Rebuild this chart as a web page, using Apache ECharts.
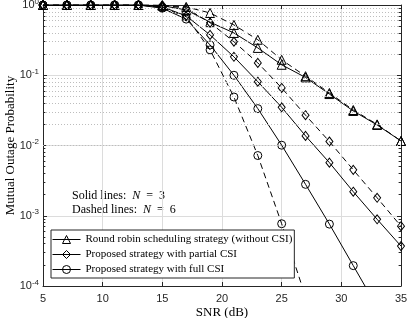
<!DOCTYPE html>
<html>
<head>
<meta charset="utf-8">
<script src="https://cdn.jsdelivr.net/npm/echarts@6/dist/echarts.min.js"></script>
<style>
  html, body { margin: 0; padding: 0; background: #fff; }
  #chart { width: 408px; height: 318px; }
</style>
</head>
<body>
<div id="chart"></div>
<script>
// SNR points (dB)
const snr = [5, 7, 9, 11, 13, 15, 17, 19, 21, 23, 25, 27, 29, 31, 33, 35];

// round robin scheduling (without CSI)
const roundRobinN3 = [1, 1, 1, 1, 1, 0.98, 0.85, 0.57, 0.40, 0.245, 0.141, 0.093, 0.054, 0.031, 0.0196, 0.0116];
const roundRobinN6 = [1, 1, 1, 1, 1, 0.99, 0.94, 0.77, 0.52, 0.32, 0.166, 0.097, 0.056, 0.032, 0.020, 0.0116];

// proposed strategy, partial CSI
const partialN3 = [1, 1, 1, 1, 1, 0.94, 0.70, 0.375, 0.183, 0.081, 0.035, 0.0137, 0.0057, 0.0022, 0.00089, 0.00037];
const partialN6 = [1, 1, 1, 1, 1, 0.99, 0.90, 0.56, 0.30, 0.15, 0.066, 0.027, 0.0114, 0.0045, 0.0018, 0.00071];

// proposed strategy, full CSI
const fullN3 = [1, 1, 1, 1, 1, 0.90, 0.63, 0.27, 0.10, 0.0335, 0.0101, 0.0028, 0.00076, 0.000195, 0.00005, null];
const fullN6 = [1, 1, 1, 1, 1, 0.92, 0.68, 0.23, 0.049, 0.0072, 0.00077, 0.00007, null, null, null, null];

const xTicks = [5, 10, 15, 20, 25, 30, 35];
const yDecades = [1e-4, 1e-3, 1e-2, 1e-1, 1];

const legendNames = [
  'Round robin scheduling strategy (without CSI)',
  'Proposed strategy with partial CSI',
  'Proposed strategy with full CSI'
];

const serif = "'Liberation Serif', 'DejaVu Serif', serif";
const sans = "'Liberation Sans', Arial, sans-serif";
const axisColor = '#262626';

// minor log grid values 2..9 x 10^k
const minorVals = [];
for (let k = 0; k < yDecades.length - 1; k++) {
  for (let m = 2; m <= 9; m++) minorVals.push(+(m * yDecades[k]).toPrecision(3));
}

const pairs = (vals) => snr.map((x, i) => [x, vals[i]]);

function makeSeries(name, vals, symbol, size, dashed) {
  return {
    name: name,
    type: 'line',
    data: pairs(vals),
    symbol: symbol,
    symbolSize: size,
    clip: true,
    connectNulls: false,
    lineStyle: { color: '#000', width: 1, type: dashed ? [6, 4] : 'solid' },
    itemStyle: { color: 'rgba(255,255,255,0)', borderColor: '#000', borderWidth: 1 },
    emphasis: { disabled: true },
    animation: false
  };
}

const chart = echarts.init(document.getElementById('chart'));

const option = {
  animation: false,
  grid: { left: 43, right: 7, top: 5, bottom: 32, outerBoundsMode: 'none' },
  legend: {
    data: legendNames,
    orient: 'vertical',
    left: 51,
    top: 230,
    itemWidth: 28,
    itemHeight: 10,
    itemGap: 2,
    padding: [3, 2, 2, 1],
    backgroundColor: '#fff',
    borderColor: axisColor,
    borderWidth: 1,
    selectedMode: false,
    lineStyle: { width: 1 },
    itemStyle: { borderWidth: 1 },
    textStyle: { fontFamily: serif, fontSize: 11, color: '#000', lineHeight: 13 }
  },
  graphic: [
    {
      type: 'text', left: 72, top: 190,
      style: {
        text: '{a|Solid lines:  }{i|N}{a|  =  3}',
        rich: { a: { fontFamily: serif, fontSize: 12, fill: '#000' }, i: { fontFamily: serif, fontSize: 12, fontStyle: 'italic', fill: '#000' } }
      }
    },
    {
      type: 'text', left: 72, top: 204,
      style: {
        text: '{a|Dashed lines:  }{i|N}{a|  =  6}',
        rich: { a: { fontFamily: serif, fontSize: 12, fill: '#000' }, i: { fontFamily: serif, fontSize: 12, fontStyle: 'italic', fill: '#000' } }
      }
    }
  ],
  xAxis: [
    {
      type: 'value', min: 5, max: 35, interval: 5,
      name: 'SNR (dB)', nameLocation: 'middle', nameGap: 20, nameMoveOverlap: false,
      nameTextStyle: { fontFamily: serif, fontSize: 13, color: '#000' },
      axisLine: { lineStyle: { color: axisColor, width: 1 } },
      axisTick: { inside: true, length: 4, lineStyle: { color: axisColor } },
      axisLabel: { fontFamily: sans, fontSize: 11, color: axisColor, margin: 7,
        formatter: (v) => xTicks.includes(v) ? String(v) : '' },
      splitLine: { show: true, lineStyle: { color: '#dcdcdc', width: 1 } }
    },
    {
      type: 'value', min: 5, max: 35, interval: 5, position: 'top',
      axisLine: { lineStyle: { color: axisColor, width: 1 } },
      axisTick: { inside: true, length: 4, lineStyle: { color: axisColor } },
      axisLabel: { show: false },
      splitLine: { show: false }
    }
  ],
  yAxis: [
    {
      type: 'log', logBase: 10, min: 1e-4, max: 1,
      name: 'Mutual Outage Probability', nameLocation: 'middle', nameGap: 26, nameMoveOverlap: false,
      nameTextStyle: { fontFamily: serif, fontSize: 13, color: '#000' },
      axisLine: { show: true, lineStyle: { color: axisColor, width: 1 } },
      axisTick: { inside: true, length: 4, lineStyle: { color: axisColor } },
      axisLabel: {
        color: axisColor, margin: 4,
        formatter: (v) => '{b|10}{s|' + Math.round(Math.log10(v)) + '}',
        rich: {
          b: { fontFamily: sans, fontSize: 11, color: axisColor },
          s: { fontFamily: sans, fontSize: 8, color: axisColor, padding: [0, 0, 7, 0] }
        }
      },
      splitLine: { show: true, lineStyle: { color: '#dcdcdc', width: 1 } }
    },
    {
      type: 'log', logBase: 10, min: 1e-4, max: 1, position: 'right',
      axisLine: { show: true, lineStyle: { color: axisColor, width: 1 } },
      axisTick: { inside: true, length: 4, lineStyle: { color: axisColor } },
      axisLabel: { show: false },
      splitLine: { show: false }
    }
  ],
  series: [
    {
      name: 'minor-grid',
      type: 'line',
      data: [],
      silent: true,
      z: 1,
      markLine: {
        silent: true,
        symbol: 'none',
        label: { show: false },
        animation: false,
        lineStyle: { color: '#bdbdbd', width: 1, type: [1, 2] },
        data: minorVals.map((v) => ({ yAxis: v }))
      }
    },
    {
      name: 'minor-ticks',
      type: 'line',
      data: [],
      silent: true,
      z: 3,
      markLine: {
        silent: true,
        symbol: 'none',
        label: { show: false },
        animation: false,
        lineStyle: { color: axisColor, width: 1, type: 'solid' },
        data: minorVals.map((v) => [{ coord: [5, v] }, { coord: [5.2, v] }])
          .concat(minorVals.map((v) => [{ coord: [34.8, v] }, { coord: [35, v] }]))
      }
    },
    makeSeries(legendNames[0], roundRobinN3, 'triangle', 9, false),
    makeSeries(legendNames[1], partialN3, 'diamond', [7, 9], false),
    makeSeries(legendNames[2], fullN3, 'circle', 8, false),
    makeSeries('Round robin (N=6)', roundRobinN6, 'triangle', 9, true),
    makeSeries('Partial CSI (N=6)', partialN6, 'diamond', [7, 9], true),
    makeSeries('Full CSI (N=6)', fullN6, 'circle', 8, true)
  ]
};

chart.setOption(option);
</script>
</body>
</html>
